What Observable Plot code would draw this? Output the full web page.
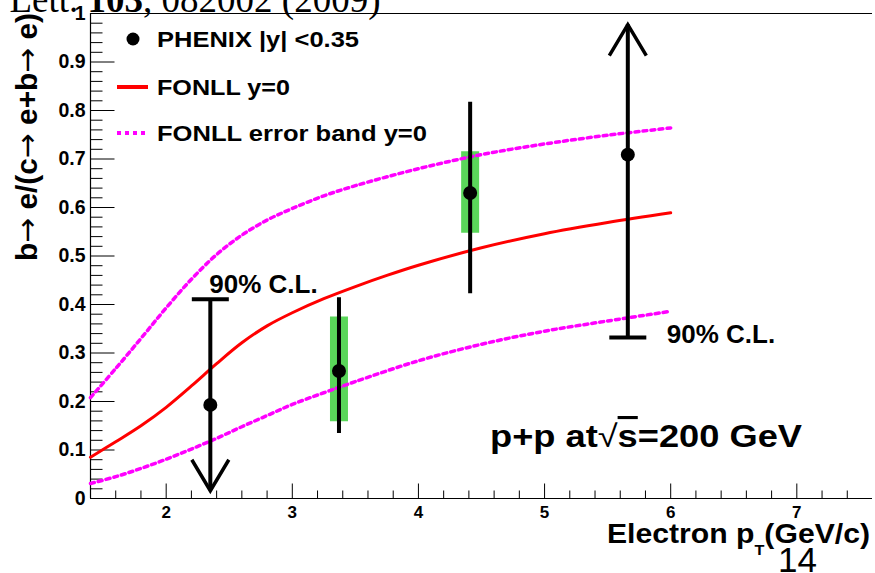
<!DOCTYPE html>
<html>
<head>
<meta charset="utf-8">
<script src="https://cdn.jsdelivr.net/npm/d3@7"></script>
<script src="https://cdn.jsdelivr.net/npm/@observablehq/plot@0.6"></script>
<style>
  html, body { margin: 0; padding: 0; background: #fff; }
  #chart { width: 875px; height: 573px; overflow: hidden; position: relative; }
  #chart svg { display: block; }
</style>
</head>
<body>
<div id="chart"></div>
<script>
// ---------- data ----------
// FONLL central curve (y = 0)
const fonllX = [1.4, 1.6, 1.8, 2.0, 2.2, 2.4, 2.6, 2.8, 3.0, 3.25, 3.5, 3.75, 4.0, 4.5, 5.0, 5.5, 6.0];
const fonllY = [0.085, 0.117, 0.150, 0.188, 0.232, 0.278, 0.321, 0.356, 0.383, 0.412, 0.437, 0.460, 0.481, 0.517, 0.546, 0.569, 0.589];
// FONLL error band, upper edge
const bandUpX = [1.4, 1.6, 1.8, 2.0, 2.2, 2.4, 2.6, 2.8, 3.0, 3.25, 3.5, 4.0, 4.5, 5.0, 5.5, 6.0];
const bandUpY = [0.208, 0.268, 0.330, 0.393, 0.452, 0.503, 0.543, 0.574, 0.598, 0.624, 0.645, 0.680, 0.709, 0.731, 0.749, 0.764];
// FONLL error band, lower edge
const bandLoX = [1.4, 1.6, 1.8, 2.0, 2.2, 2.4, 2.6, 2.8, 3.0, 3.25, 3.5, 4.0, 4.5, 5.0, 5.5, 6.0];
const bandLoY = [0.031, 0.045, 0.062, 0.081, 0.102, 0.124, 0.148, 0.171, 0.194, 0.218, 0.241, 0.284, 0.318, 0.345, 0.366, 0.386];

// PHENIX points
const pointX    = [2.35, 3.37, 4.41, 5.66];
const pointY    = [0.193, 0.263, 0.630, 0.709];
const barLow    = [0.016, 0.134, 0.422, 0.332];
const barHigh   = [0.411, 0.414, 0.817, 0.977];
const sysLow    = [null, 0.158, 0.547, null];
const sysHigh   = [null, 0.374, 0.715, null];
const limitKind = ["upper", null, null, "lower"];   // 90% C.L. limits
const limitCap  = [0.411, null, null, 0.332];
const limitTip  = [0.016, null, null, 0.977];

// axes
const xDomain = [1.4, 7.6];
const yDomain = [0, 1];
const xTickLabels = [2, 3, 4, 5, 6, 7];
const yTickLabels = [0, 0.1, 0.2, 0.3, 0.4, 0.5, 0.6, 0.7, 0.8, 0.9, 1];

// texts
const legendLabels = ["PHENIX |y| <0.35", "FONLL y=0", "FONLL error band y=0"];
const clLabel = "90% C.L.";
const yTitleParts = ["b", "\u2192", " e/(c", "\u2192", " e+b", "\u2192", " e)"];

// ---------- tables ----------
const fonll = fonllX.map((x, i) => ({x, y: fonllY[i]}));
const bandUp = bandUpX.map((x, i) => ({x, y: bandUpY[i]}));
const bandLo = bandLoX.map((x, i) => ({x, y: bandLoY[i]}));
const points = pointX.map((x, i) => ({
  x, y: pointY[i], lo: barLow[i], hi: barHigh[i],
  sysLo: sysLow[i], sysHi: sysHigh[i],
  kind: limitKind[i], cap: limitCap[i], tip: limitTip[i]
}));
const sysPts = points.filter(d => d.sysLo != null);
const limPts = points.filter(d => d.kind != null);

// minor / major tick positions (axis furniture)
const xMinor = d3.range(8, 38).map(i => i / 5).filter(v => Math.abs(v - Math.round(v)) > 1e-9);
const xMajor = xTickLabels;
const yAll = d3.range(0, 51).map(i => i / 50);
const yMajor = yAll.filter((v, i) => i % 5 === 0);
const yMinor = yAll.filter((v, i) => i % 5 !== 0);

const lineShape = {draw(ctx, l) { ctx.moveTo(0, 0); ctx.lineTo(0, -l); }};
const vShape = {draw(ctx, l) { ctx.moveTo(-18.5, l); ctx.lineTo(0, 0); ctx.lineTo(18.5, l); }};

const MAG = "#ff00ff";
const RED = "#ff0000";
const GREEN = "#5ad65a";
const DOTS = "4,4";

const plot = Plot.plot({
  width: 875,
  height: 573,
  marginLeft: 90,
  marginRight: 3,
  marginTop: 13,
  marginBottom: 75,
  x: {domain: xDomain, label: null},
  y: {domain: yDomain, label: null},
  style: {
    fontFamily: "'Liberation Sans', Arial, Helvetica, sans-serif",
    fontWeight: "bold",
    background: "#fff",
    color: "#000",
    overflow: "visible"
  },
  marks: [
    // tick labels
    Plot.axisX(xTickLabels, {tickSize: 0, tickPadding: 7, fontSize: 17, label: null, tickFormat: "~g"}),
    Plot.axisY(yTickLabels, {tickSize: 0, tickPadding: 5, fontSize: 19.5, label: null, tickFormat: "~g"}),
    // inward ticks (ROOT style)
    Plot.vector(yMajor, {x: () => xDomain[0], y: d => d, rotate: 90, length: 24, anchor: "start", shape: lineShape, stroke: "#000", strokeWidth: 1, strokeLinecap: "butt"}),
    Plot.vector(yMinor, {x: () => xDomain[0], y: d => d, rotate: 90, length: 12, anchor: "start", shape: lineShape, stroke: "#000", strokeWidth: 1, strokeLinecap: "butt"}),
    Plot.vector(xMajor, {x: d => d, y: () => yDomain[0], rotate: 0, length: 15, anchor: "start", shape: lineShape, stroke: "#000", strokeWidth: 1, strokeLinecap: "butt"}),
    Plot.vector(xMinor, {x: d => d, y: () => yDomain[0], rotate: 0, length: 8, anchor: "start", shape: lineShape, stroke: "#000", strokeWidth: 1, strokeLinecap: "butt"}),
    // frame lines
    Plot.ruleY([yDomain[0]], {stroke: "#000", strokeWidth: 1.2}),
    Plot.ruleY([yDomain[1]], {stroke: "#000", strokeWidth: 1.2}),
    Plot.ruleX([xDomain[0]], {stroke: "#000", strokeWidth: 1.2}),
    // systematic boxes
    Plot.ruleX(sysPts, {x: "x", y1: "sysLo", y2: "sysHi", stroke: GREEN, strokeWidth: 18}),
    // FONLL curves
    Plot.line(bandUp, {x: "x", y: "y", curve: "catmull-rom", stroke: MAG, strokeWidth: 3.5, strokeDasharray: DOTS}),
    Plot.line(bandLo, {x: "x", y: "y", curve: "catmull-rom", stroke: MAG, strokeWidth: 3.5, strokeDasharray: DOTS}),
    Plot.line(fonll, {x: "x", y: "y", curve: "catmull-rom", stroke: RED, strokeWidth: 3}),
    // error bars / limit bars
    Plot.ruleX(points, {x: "x", y1: "lo", y2: "hi", stroke: "#000", strokeWidth: 4}),
    // limit caps
    Plot.vector(limPts, {x: "x", y: "cap", rotate: 90, length: 37, anchor: "middle", shape: lineShape, stroke: "#000", strokeWidth: 4, strokeLinecap: "butt"}),
    // arrow heads
    Plot.vector(limPts, {x: "x", y: "tip", rotate: d => d.kind === "lower" ? 0 : 180, length: 31, anchor: "start", shape: vShape, stroke: "#000", strokeWidth: 3.5, fill: "none", strokeLinejoin: "miter", strokeLinecap: "butt"}),
    // markers
    Plot.dot(points, {x: "x", y: "y", r: 7, fill: "#000", stroke: "none"}),
    // 90% C.L. labels
    Plot.text(limPts.filter(d => d.kind === "upper"), {x: "x", y: "cap", text: () => clLabel, textAnchor: "start", lineAnchor: "middle", dx: -1, dy: -14, fontSize: 26, fill: "#000"}),
    Plot.text(limPts.filter(d => d.kind === "lower"), {x: "x", y: "cap", text: () => clLabel, textAnchor: "start", lineAnchor: "middle", dx: 39, dy: -3, fontSize: 26, fill: "#000"})
  ]
});

document.getElementById("chart").appendChild(plot);

// ---------- annotations (titles, legend, notes) ----------
const svg = d3.select(plot);
const FONT = "'Liberation Sans', Arial, Helvetica, sans-serif";
const ARROWFONT = "'DejaVu Sans', sans-serif";

// citation text (cut off at top)
const cit = svg.append("text").attr("x", -9).attr("y", 12).attr("text-anchor", "start")
  .attr("font-family", "'Liberation Serif', 'Times New Roman', serif")
  .attr("font-weight", "normal").attr("font-size", 37).attr("fill", "#000");
cit.append("tspan").text(". Lett. ");
cit.append("tspan").attr("font-weight", "bold").text("103");
cit.append("tspan").text(", 082002 (2009)");

// y title
const yt = svg.append("text")
  .attr("transform", "translate(37,13) rotate(-90)")
  .attr("text-anchor", "end")
  .attr("font-family", FONT).attr("font-weight", "bold").attr("font-size", 29)
  .attr("textLength", 248).attr("lengthAdjust", "spacingAndGlyphs")
  .attr("fill", "#000");
yTitleParts.forEach(p => {
  const ts = yt.append("tspan").text(p);
  if (p === "\u2192") ts.attr("font-family", ARROWFONT).attr("font-weight", "normal");
});

// x title
const xt = svg.append("text").attr("x", 870).attr("y", 543).attr("text-anchor", "end")
  .attr("font-family", FONT).attr("font-weight", "bold").attr("font-size", 28).attr("fill", "#000")
  .attr("textLength", 263).attr("lengthAdjust", "spacingAndGlyphs");
xt.append("tspan").text("Electron p");
xt.append("tspan").attr("font-size", 15).attr("dy", 12).text("T");
xt.append("tspan").attr("dy", -12).text("(GeV/c)");

// page number
svg.append("text").attr("x", 778).attr("y", 572).attr("text-anchor", "start")
  .attr("font-family", FONT).attr("font-weight", "normal").attr("font-size", 35)
  .attr("fill", "#000").text("14");

// p+p label
const pp = svg.append("text").attr("x", 490).attr("y", 447).attr("text-anchor", "start")
  .attr("font-family", FONT).attr("font-weight", "bold").attr("font-size", 31).attr("fill", "#000")
  .attr("textLength", 312).attr("lengthAdjust", "spacingAndGlyphs");
pp.append("tspan").text("p+p at");
pp.append("tspan").attr("font-weight", "normal").text("\u221A");
pp.append("tspan").attr("text-decoration", "overline").text("s");
pp.append("tspan").text("=200 GeV");

// legend
const lg = svg.append("g").attr("font-family", FONT).attr("font-weight", "bold").attr("font-size", 22).attr("fill", "#000").attr("text-anchor", "start");
const legY = [39, 87, 133];
const legW = [202, 133, 270];
lg.append("circle").attr("cx", 133).attr("cy", legY[0]).attr("r", 6.5).attr("fill", "#000");
lg.append("line").attr("x1", 117).attr("x2", 148).attr("y1", legY[1]).attr("y2", legY[1]).attr("stroke", RED).attr("stroke-width", 4);
lg.append("line").attr("x1", 117).attr("x2", 148).attr("y1", legY[2]).attr("y2", legY[2]).attr("stroke", MAG).attr("stroke-width", 4).attr("stroke-dasharray", DOTS);
legendLabels.forEach((t, i) => {
  lg.append("text").attr("x", 157).attr("y", legY[i]).attr("dy", "0.36em").attr("text-anchor", "start")
    .attr("textLength", legW[i]).attr("lengthAdjust", "spacingAndGlyphs").text(t);
});
</script>
</body>
</html>
